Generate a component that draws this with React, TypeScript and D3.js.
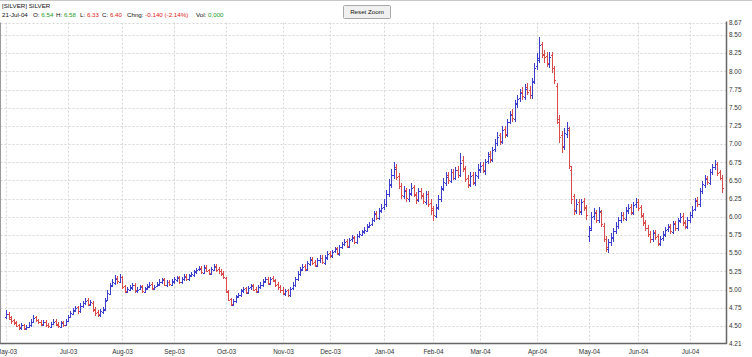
import React from "react";
import * as d3 from "d3";

// ---- data (trading days 27-May-03 .. 21-Jul-04) ----
const START_DATE = "2003-05-27";
const END_DATE = "2004-07-21";
const HOLIDAYS = ["2003-07-04", "2003-09-01", "2003-11-27", "2003-12-25", "2004-01-01", "2004-01-19", "2004-02-16", "2004-04-09", "2004-05-31", "2004-06-11", "2004-07-05"];

const opens = [
  4.62, 4.67, 4.62, 4.58,
  4.55, 4.51, 4.47, 4.51, 4.46, 4.49, 4.51, 4.56, 4.62, 4.58, 4.56, 4.52, 4.56, 4.52, 4.49, 4.53, 4.57, 4.53, 4.49, 4.55, 4.52,
  4.57, 4.63, 4.67, 4.71, 4.76, 4.70, 4.77, 4.81, 4.86, 4.79, 4.82, 4.73, 4.69, 4.65, 4.69, 4.73, 4.86, 4.94, 5.06, 5.09, 5.16, 5.11,
  5.17, 5.05, 4.97, 5.00, 5.02, 5.07, 4.98, 5.01, 5.05, 4.97, 5.02, 5.04, 5.08, 5.01, 5.05, 5.07, 5.10, 5.14, 5.06, 5.11, 5.07,
  5.11, 5.13, 5.17, 5.10, 5.15, 5.19, 5.14, 5.20, 5.20, 5.25, 5.28, 5.30, 5.23, 5.31, 5.27, 5.22, 5.27, 5.32, 5.28, 5.26, 5.23,
  5.16, 4.97, 4.87, 4.79, 4.85, 4.91, 4.92, 4.99, 5.02, 4.96, 5.03, 5.06, 5.01, 4.97, 5.04, 5.06, 5.12, 5.15, 5.08, 5.16, 5.13, 5.08, 5.04,
  5.00, 4.94, 4.99, 4.92, 5.02, 5.06, 5.15, 5.21, 5.28, 5.32, 5.27, 5.35, 5.42, 5.38, 5.33, 5.41, 5.44, 5.37, 5.44,
  5.50, 5.46, 5.53, 5.57, 5.49, 5.59, 5.62, 5.67, 5.59, 5.69, 5.72, 5.65, 5.74, 5.75, 5.80, 5.81, 5.87, 5.90, 5.96, 6.05, 5.98, 6.09,
  6.13, 6.17, 6.31, 6.44, 6.57, 6.68, 6.56, 6.43, 6.28, 6.37, 6.25, 6.32, 6.41, 6.30, 6.23, 6.36, 6.30, 6.20, 6.32, 6.19,
  6.12, 6.01, 6.13, 6.24, 6.39, 6.47, 6.57, 6.49, 6.62, 6.53, 6.65, 6.57, 6.78, 6.67, 6.53, 6.44, 6.57, 6.47, 6.56,
  6.64, 6.71, 6.63, 6.77, 6.86, 6.78, 6.93, 7.01, 7.12, 7.03, 7.21, 7.13, 7.31, 7.42, 7.35, 7.56, 7.63, 7.72, 7.65, 7.78, 7.74, 7.67, 7.87,
  8.08, 8.15, 8.38, 8.22, 8.21, 8.10, 8.22, 8.04, 7.80, 7.30, 7.12, 6.96, 7.14, 7.20, 6.65, 6.28, 6.08, 6.20, 6.06, 6.22, 6.13,
  5.74, 5.84, 6.01, 6.06, 5.95, 6.06, 5.88, 5.69, 5.56, 5.66, 5.71, 5.81, 5.87, 5.96, 6.03, 5.97, 6.09, 6.13, 6.05, 6.17,
  6.21, 6.13, 6.01, 5.93, 5.85, 5.77, 5.69, 5.79, 5.73, 5.63, 5.71, 5.75, 5.83, 5.87, 5.79, 5.91, 5.84, 5.95, 6.01, 5.93, 5.86,
  5.95, 6.03, 6.11, 6.23, 6.17, 6.36, 6.44, 6.53, 6.47, 6.61, 6.69, 6.73, 6.61, 6.54,
];
const highs = [
  4.72, 4.69, 4.64, 4.60,
  4.57, 4.53, 4.54, 4.53, 4.51, 4.55, 4.59, 4.65, 4.64, 4.60, 4.58, 4.58, 4.58, 4.54, 4.56, 4.59, 4.59, 4.55, 4.57, 4.57, 4.60,
  4.65, 4.71, 4.75, 4.78, 4.78, 4.81, 4.85, 4.89, 4.89, 4.86, 4.84, 4.76, 4.72, 4.73, 4.76, 4.88, 4.99, 5.09, 5.14, 5.20, 5.19, 5.22,
  5.19, 5.07, 5.04, 5.06, 5.09, 5.09, 5.03, 5.07, 5.07, 5.04, 5.08, 5.10, 5.10, 5.07, 5.11, 5.14, 5.16, 5.16, 5.13, 5.13, 5.15,
  5.17, 5.19, 5.19, 5.17, 5.21, 5.21, 5.22, 5.24, 5.27, 5.30, 5.33, 5.33, 5.34, 5.34, 5.29, 5.31, 5.35, 5.35, 5.31, 5.29, 5.26,
  5.18, 5.00, 4.89, 4.87, 4.93, 4.96, 5.01, 5.04, 5.04, 5.05, 5.08, 5.08, 5.03, 5.06, 5.10, 5.14, 5.18, 5.17, 5.18, 5.19, 5.15, 5.10, 5.06,
  5.03, 5.01, 5.01, 5.04, 5.10, 5.17, 5.25, 5.31, 5.35, 5.35, 5.39, 5.45, 5.45, 5.41, 5.43, 5.47, 5.47, 5.48, 5.53,
  5.53, 5.55, 5.59, 5.59, 5.61, 5.66, 5.70, 5.69, 5.71, 5.75, 5.74, 5.76, 5.80, 5.82, 5.86, 5.90, 5.93, 5.99, 6.08, 6.08, 6.12, 6.17,
  6.24, 6.37, 6.52, 6.66, 6.76, 6.72, 6.60, 6.47, 6.42, 6.40, 6.38, 6.46, 6.44, 6.34, 6.40, 6.40, 6.33, 6.36, 6.35, 6.24,
  6.15, 6.17, 6.30, 6.43, 6.53, 6.62, 6.61, 6.66, 6.66, 6.69, 6.70, 6.88, 6.84, 6.70, 6.58, 6.62, 6.61, 6.62, 6.72,
  6.76, 6.75, 6.80, 6.89, 6.90, 6.96, 7.07, 7.16, 7.15, 7.25, 7.25, 7.35, 7.46, 7.48, 7.60, 7.68, 7.76, 7.78, 7.82, 7.84, 7.80, 7.91, 8.12,
  8.25, 8.47, 8.40, 8.30, 8.26, 8.27, 8.26, 8.08, 7.84, 7.40, 7.18, 7.22, 7.30, 7.24, 6.70, 6.32, 6.24, 6.24, 6.25, 6.26, 6.16,
  5.88, 6.06, 6.12, 6.10, 6.13, 6.10, 5.92, 5.74, 5.70, 5.78, 5.85, 5.93, 6.00, 6.07, 6.06, 6.13, 6.18, 6.17, 6.21, 6.26,
  6.24, 6.16, 6.05, 5.96, 5.89, 5.80, 5.82, 5.82, 5.76, 5.74, 5.80, 5.86, 5.90, 5.90, 5.94, 5.94, 5.98, 6.05, 6.05, 5.96, 6.00,
  6.06, 6.15, 6.26, 6.27, 6.39, 6.49, 6.57, 6.56, 6.66, 6.72, 6.78, 6.75, 6.64, 6.58,
];
const lows = [
  4.60, 4.58, 4.53, 4.51,
  4.48, 4.45, 4.45, 4.44, 4.44, 4.47, 4.49, 4.54, 4.56, 4.53, 4.50, 4.50, 4.49, 4.47, 4.47, 4.51, 4.50, 4.47, 4.47, 4.49, 4.50,
  4.55, 4.61, 4.65, 4.69, 4.67, 4.68, 4.75, 4.79, 4.77, 4.77, 4.69, 4.64, 4.62, 4.63, 4.67, 4.71, 4.84, 4.92, 5.03, 5.07, 5.08, 5.09,
  5.01, 4.96, 4.95, 4.98, 5.00, 4.96, 4.96, 4.99, 4.96, 4.95, 5.00, 5.02, 5.00, 4.99, 5.03, 5.05, 5.08, 5.05, 5.04, 5.05, 5.05,
  5.08, 5.10, 5.08, 5.08, 5.12, 5.12, 5.12, 5.17, 5.18, 5.22, 5.25, 5.21, 5.21, 5.24, 5.20, 5.20, 5.25, 5.24, 5.22, 5.19, 5.15,
  4.95, 4.84, 4.77, 4.77, 4.82, 4.88, 4.90, 4.96, 4.94, 4.94, 5.00, 4.98, 4.95, 4.95, 5.01, 5.04, 5.09, 5.06, 5.06, 5.10, 5.04, 5.00, 4.96,
  4.92, 4.91, 4.90, 4.90, 4.99, 5.04, 5.12, 5.19, 5.25, 5.25, 5.25, 5.33, 5.34, 5.31, 5.31, 5.37, 5.35, 5.34, 5.41,
  5.43, 5.43, 5.50, 5.47, 5.46, 5.56, 5.60, 5.57, 5.57, 5.66, 5.63, 5.62, 5.71, 5.73, 5.77, 5.79, 5.84, 5.87, 5.93, 5.95, 5.95, 6.05,
  6.09, 6.14, 6.27, 6.40, 6.52, 6.50, 6.38, 6.25, 6.24, 6.21, 6.20, 6.29, 6.27, 6.18, 6.20, 6.25, 6.17, 6.16, 6.14, 6.03,
  5.94, 5.98, 6.09, 6.20, 6.35, 6.43, 6.45, 6.46, 6.50, 6.50, 6.54, 6.55, 6.62, 6.48, 6.40, 6.41, 6.44, 6.43, 6.52,
  6.60, 6.60, 6.58, 6.73, 6.74, 6.75, 6.89, 6.97, 6.99, 7.00, 7.09, 7.10, 7.27, 7.30, 7.31, 7.50, 7.58, 7.60, 7.60, 7.67, 7.62, 7.62, 7.82,
  8.02, 8.11, 8.18, 8.12, 8.06, 8.05, 7.98, 7.82, 7.28, 7.02, 6.88, 6.92, 7.08, 6.66, 6.18, 6.02, 6.04, 6.02, 6.02, 6.08, 5.96,
  5.66, 5.80, 5.96, 5.91, 5.92, 5.86, 5.66, 5.52, 5.50, 5.60, 5.66, 5.76, 5.83, 5.92, 5.94, 5.94, 6.04, 6.02, 6.02, 6.12,
  6.08, 5.98, 5.88, 5.80, 5.72, 5.64, 5.66, 5.68, 5.60, 5.60, 5.67, 5.72, 5.79, 5.76, 5.76, 5.81, 5.80, 5.91, 5.88, 5.83, 5.83,
  5.91, 5.99, 6.08, 6.14, 6.14, 6.31, 6.40, 6.44, 6.44, 6.57, 6.65, 6.56, 6.50, 6.33,
];
const closes = [
  4.66, 4.60, 4.57, 4.54,
  4.50, 4.48, 4.51, 4.47, 4.49, 4.52, 4.56, 4.61, 4.58, 4.55, 4.53, 4.55, 4.51, 4.50, 4.53, 4.56, 4.52, 4.50, 4.54, 4.52, 4.57,
  4.62, 4.68, 4.72, 4.75, 4.70, 4.78, 4.82, 4.85, 4.80, 4.83, 4.72, 4.68, 4.66, 4.70, 4.72, 4.85, 4.95, 5.05, 5.10, 5.15, 5.12, 5.18,
  5.04, 4.98, 5.01, 5.03, 5.06, 4.99, 5.00, 5.04, 4.98, 5.01, 5.05, 5.07, 5.02, 5.04, 5.08, 5.11, 5.13, 5.07, 5.10, 5.08, 5.12,
  5.14, 5.16, 5.11, 5.14, 5.18, 5.15, 5.19, 5.21, 5.24, 5.27, 5.29, 5.24, 5.30, 5.26, 5.23, 5.28, 5.31, 5.27, 5.25, 5.22, 5.18,
  4.98, 4.86, 4.80, 4.84, 4.90, 4.93, 4.98, 5.01, 4.97, 5.02, 5.05, 5.00, 4.98, 5.03, 5.07, 5.11, 5.14, 5.09, 5.15, 5.12, 5.07, 5.03, 4.99,
  4.95, 4.98, 4.93, 5.01, 5.07, 5.14, 5.22, 5.27, 5.31, 5.28, 5.36, 5.41, 5.37, 5.34, 5.40, 5.43, 5.38, 5.45, 5.49,
  5.47, 5.52, 5.56, 5.50, 5.58, 5.63, 5.66, 5.60, 5.68, 5.71, 5.66, 5.73, 5.76, 5.79, 5.82, 5.86, 5.89, 5.95, 6.04, 5.99, 6.08, 6.12,
  6.18, 6.32, 6.45, 6.58, 6.66, 6.55, 6.42, 6.30, 6.36, 6.26, 6.33, 6.40, 6.31, 6.24, 6.35, 6.29, 6.22, 6.31, 6.18, 6.10,
  6.02, 6.12, 6.25, 6.38, 6.48, 6.55, 6.50, 6.61, 6.54, 6.64, 6.58, 6.74, 6.66, 6.52, 6.45, 6.56, 6.48, 6.57, 6.66,
  6.70, 6.64, 6.76, 6.84, 6.79, 6.92, 7.02, 7.10, 7.04, 7.20, 7.14, 7.30, 7.40, 7.36, 7.55, 7.62, 7.70, 7.66, 7.76, 7.72, 7.68, 7.86, 8.04,
  8.18, 8.36, 8.24, 8.20, 8.12, 8.20, 8.05, 7.88, 7.35, 7.10, 6.98, 7.15, 7.22, 6.70, 6.25, 6.10, 6.18, 6.08, 6.20, 6.12, 6.02,
  5.82, 6.00, 6.05, 5.96, 6.08, 5.90, 5.70, 5.58, 5.65, 5.72, 5.80, 5.88, 5.95, 6.02, 5.98, 6.08, 6.12, 6.06, 6.16, 6.20,
  6.12, 6.02, 5.92, 5.84, 5.76, 5.70, 5.78, 5.72, 5.64, 5.70, 5.76, 5.82, 5.86, 5.80, 5.90, 5.85, 5.94, 6.00, 5.92, 5.87, 5.96,
  6.02, 6.10, 6.22, 6.18, 6.35, 6.45, 6.52, 6.48, 6.62, 6.68, 6.72, 6.60, 6.54, 6.40,
];

const priceTicks = ["4.50", "4.75", "5.00", "5.25", "5.50", "5.75", "6.00", "6.25", "6.50", "6.75", "7.00", "7.25", "7.50", "7.75", "8.00", "8.25", "8.50"];
const PRICE_MIN_LABEL = "4.21";
const PRICE_MAX_LABEL = "8.67";
const PRICE_DOMAIN = [4.266, 8.67];

const TITLE = "[SILVER] SILVER";
const LAST_DATE_LABEL = "21-Jul-04";
const headerItems = [
  { label: "O:", value: "6.54", color: "#1a9a1a" },
  { label: "H:", value: "6.58", color: "#1a9a1a" },
  { label: "L:", value: "6.33", color: "#e02020" },
  { label: "C:", value: "6.40", color: "#e02020" },
  { label: "Chng:", value: "-0.140 (-2.14%)", color: "#e02020" },
  { label: "Vol:", value: "0,000", color: "#1a9a1a" },
];
const headerX = [33, 56, 80, 102, 127, 196];

// ---- layout ----
const W = 752;
const H = 357;
const PLOT_LEFT = 0.5;
const PLOT_RIGHT = 726.5;
const PLOT_TOP = 22.6;
const PLOT_BOTTOM = 343;
const FIRST_X = 6.3;
const LAST_X = 722;
const UP = "#3d3dcc";
const DOWN = "#d94a4a";
const FONT = "'Liberation Sans', Arial, sans-serif";

function tradingDays(): Date[] {
  const hol = new Set(HOLIDAYS);
  const out: Date[] = [];
  const d = new Date(START_DATE + "T00:00:00Z");
  const end = new Date(END_DATE + "T00:00:00Z");
  while (d <= end) {
    const wd = d.getUTCDay();
    const key = d.toISOString().slice(0, 10);
    if (wd !== 0 && wd !== 6 && !hol.has(key)) out.push(new Date(d));
    d.setUTCDate(d.getUTCDate() + 1);
  }
  return out;
}

export default function App() {
  const days = tradingDays();
  const n = Math.min(days.length, opens.length, highs.length, lows.length, closes.length);
  const dates = days.slice(0, n);
  const keys = dates.map((d) => d.toISOString().slice(0, 10));

  const x = d3.scalePoint<string>().domain(keys).range([FIRST_X, LAST_X]);
  const y = d3.scaleLinear().domain(PRICE_DOMAIN).range([PLOT_BOTTOM, PLOT_TOP]);
  const fmt = d3.utcFormat("%b-%y");

  // month ticks: first trading day of each month, skip when too close
  const monthTicks: { key: string; label: string }[] = [];
  let lastIdx = -999;
  dates.forEach((d, i) => {
    if (i === 0 || d.getUTCMonth() !== dates[i - 1].getUTCMonth()) {
      if (i - lastIdx >= 10) {
        monthTicks.push({ key: keys[i], label: fmt(d) });
        lastIdx = i;
      }
    }
  });

  const px = (k: string) => Math.round(x(k) as number) + 0.5;

  return (
    <svg width={W} height={H} style={{ position: "absolute", left: 0, top: 0, background: "#fff" }} fontFamily={FONT}>
      <rect x={0} y={0} width={W} height={H} fill="#fff" />
      {/* horizontal grid */}
      {priceTicks.map((t) => (
        <line key={"hg" + t} x1={PLOT_LEFT} x2={PLOT_RIGHT} y1={Math.round(y(+t)) + 0.5} y2={Math.round(y(+t)) + 0.5} stroke="#d6d6d6" strokeDasharray="2,2" />
      ))}
      <line x1={PLOT_LEFT} x2={PLOT_RIGHT} y1={Math.round(PLOT_TOP) + 0.5} y2={Math.round(PLOT_TOP) + 0.5} stroke="#d6d6d6" strokeDasharray="2,2" />
      {/* vertical grid */}
      {monthTicks.map((t) => (
        <line key={"vg" + t.key} x1={px(t.key)} x2={px(t.key)} y1={PLOT_TOP} y2={PLOT_BOTTOM} stroke="#d6d6d6" strokeDasharray="2,2" />
      ))}

      {/* OHLC bars */}
      <g shapeRendering="crispEdges">
        {keys.map((k, i) => {
          const cx = px(k);
          const col = closes[i] >= opens[i] ? UP : DOWN;
          const hi = Math.max(highs[i], opens[i], closes[i]);
          const lo = Math.min(lows[i], opens[i], closes[i]);
          const yo = Math.round(y(opens[i])) + 0.5;
          const yc = Math.round(y(closes[i])) + 0.5;
          return (
            <g key={k} stroke={col} strokeWidth={1}>
              <line x1={cx} x2={cx} y1={y(hi)} y2={y(lo)} />
              <line x1={cx - 1.5} x2={cx} y1={yo} y2={yo} />
              <line x1={cx} x2={cx + 1.5} y1={yc} y2={yc} />
            </g>
          );
        })}
      </g>

      {/* frame / axes */}
      <line x1={0.5} x2={0.5} y1={PLOT_TOP} y2={PLOT_BOTTOM} stroke="#9a9a9a" />
      <line x1={0} x2={PLOT_RIGHT + 0.5} y1={PLOT_BOTTOM + 0.5} y2={PLOT_BOTTOM + 0.5} stroke="#666" strokeWidth={1.5} />
      <line x1={PLOT_RIGHT} x2={PLOT_RIGHT} y1={PLOT_TOP - 1} y2={PLOT_BOTTOM + 1} stroke="#666" strokeWidth={1.5} />
      <line x1={0} x2={W} y1={0.5} y2={0.5} stroke="#c8c8c8" />

      {/* y labels */}
      {priceTicks.map((t) => (
        <text key={"yl" + t} x={729} y={y(+t)} dy="0.35em" fontSize={6.4} fill="#333">{t}</text>
      ))}
      <text x={729} y={PLOT_TOP} dy="0.35em" fontSize={6.4} fill="#333">{PRICE_MAX_LABEL}</text>
      <text x={729} y={PLOT_BOTTOM + 1} dy="0.35em" fontSize={6.4} fill="#333">{PRICE_MIN_LABEL}</text>

      {/* x labels */}
      {monthTicks.map((t) => (
        <text key={"xl" + t.key} x={px(t.key)} y={354} textAnchor="middle" fontSize={6.4} fill="#333">{t.label}</text>
      ))}

      {/* header */}
      <text x={2} y={8} fontSize={6.2} fill="#111">{TITLE}</text>
      <text x={2} y={16.5} fontSize={6.2} fill="#111">{LAST_DATE_LABEL}</text>
      {headerItems.map((h, i) => (
        <text key={"h" + i} x={headerX[i]} y={16.5} fontSize={6.2} fill="#111">
          {h.label}
          <tspan fill={h.color}> {h.value}</tspan>
        </text>
      ))}

      {/* reset zoom button */}
      <rect x={343.5} y={5.5} width={47} height={13} fill="#f0f0f0" stroke="#a8a8a8" rx={1} />
      <text x={367} y={14.3} textAnchor="middle" fontSize={6.2} fill="#111">Reset Zoom</text>
    </svg>
  );
}
